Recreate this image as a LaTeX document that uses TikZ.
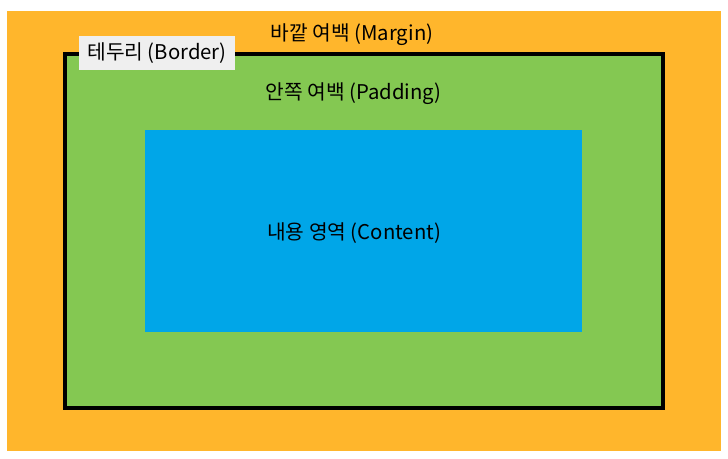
\documentclass[tikz,border=0pt]{standalone}
\usepackage{fontspec}
\newfontfamily\krfont{Noto Sans CJK KR}
\definecolor{marginc}{RGB}{255,182,44}
\definecolor{paddingc}{RGB}{132,200,82}
\definecolor{contentc}{RGB}{0,166,232}
\definecolor{labelbg}{RGB}{239,239,239}
\begin{document}
\begin{tikzpicture}[x=1pt,y=-1pt,
  lbl/.style={font=\krfont\fontsize{20.3}{24}\selectfont, text=black, inner sep=0pt}]
\useasboundingbox (0,0) rectangle (728,458);
\fill[white] (0,0) rectangle (728,458);
\fill[marginc] (7,11) rectangle (721,451);
\filldraw[fill=paddingc, draw=black, line width=4pt] (65,54) rectangle (663,408);
\fill[contentc] (145,130) rectangle (582,332);
\node[lbl] (margin) at (352,34.5) {바깥 여백 (Margin)};
\node[lbl] (padding) at (353.5,93.5) {안쪽 여백 (Padding)};
\node[lbl] (content) at (354,233.5) {내용 영역 (Content)};
\node[lbl, fill=labelbg, minimum width=156pt, minimum height=34pt] (border) at (157,53) {테두리 (Border)};
\end{tikzpicture}
\end{document}
